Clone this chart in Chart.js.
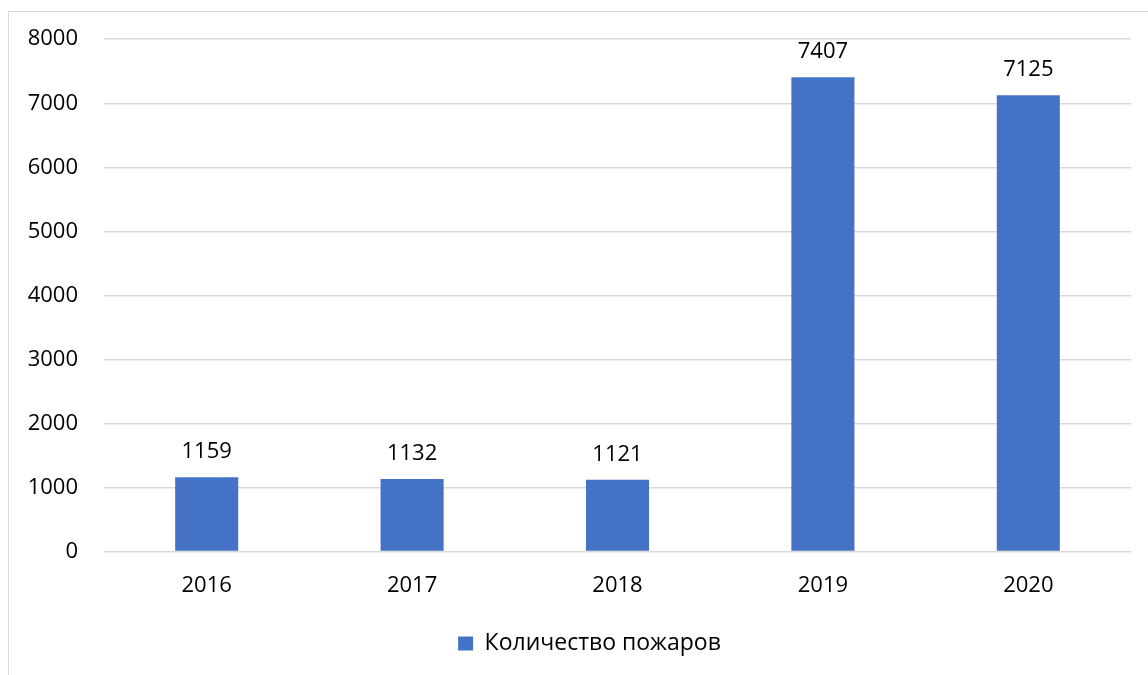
<!DOCTYPE html>
<html>
<head>
<meta charset="utf-8">
<script src="https://cdn.jsdelivr.net/npm/chart.js@4"></script>
<style>
    html, body { margin: 0; padding: 0; background: #fff; overflow: hidden; }
    #wrap { position: relative; width: 1148px; height: 675px; }
    #frame { position: absolute; left: 8px; top: 11px; width: 1200px; height: 700px; border: 1.5px solid #d9d9d9; }
    canvas { position: absolute; left: 0; top: 0; }
</style>
</head>
<body>
<div id="wrap">
    <div id="frame"></div>
    <canvas id="fireChart" width="1148" height="675"></canvas>
</div>
<script>
// Chart data
const years = ['2016', '2017', '2018', '2019', '2020'];
const fireCounts = [1159, 1132, 1121, 7407, 7125];
const seriesName = 'Количество пожаров';

const barColor = '#4472C4';
const fontFamily = '"Open Sans", "Noto Sans", sans-serif';
const fontSize = 22;

// Value labels above each bar
const valueLabels = {
    id: 'valueLabels',
    afterDatasetsDraw(chart) {
        const ctx = chart.ctx;
        const meta = chart.getDatasetMeta(0);
        ctx.save();
        ctx.font = fontSize + 'px ' + fontFamily;
        ctx.fillStyle = '#000';
        ctx.textAlign = 'center';
        ctx.textBaseline = 'middle';
        meta.data.forEach(function (bar, i) {
            ctx.fillText(fireCounts[i], bar.x, bar.y - 25.5);
        });
        ctx.restore();
    }
};

// Nudge the legend a little to the right, like in the original
const legendShift = {
    id: 'legendShift',
    afterLayout(chart) {
        if (!chart.legend) return;
        chart.legend.left += 20;
        chart.legend.right += 20;
    }
};

document.addEventListener('DOMContentLoaded', function () {
    const ctx = document.getElementById('fireChart');

    new Chart(ctx, {
        type: 'bar',
        data: {
            labels: years,
            datasets: [{
                label: seriesName,
                data: fireCounts,
                backgroundColor: barColor,
                barPercentage: 0.307,
                categoryPercentage: 1
            }]
        },
        options: {
            responsive: false,
            animation: false,
            layout: { padding: { top: 37.5, right: 17, left: 8, bottom: 10 } },
            plugins: {
                tooltip: { enabled: false },
                legend: {
                    position: 'bottom',
                    labels: {
                        font: { size: 23, family: fontFamily },
                        color: '#000',
                        boxWidth: 15,
                        boxHeight: 14,
                        padding: 22
                    }
                }
            },
            scales: {
                x: {
                    afterFit: function (scale) { scale.height -= 2; },
                    grid: { display: false },
                    border: { display: false },
                    ticks: { font: { size: fontSize, family: fontFamily }, color: '#000', padding: 13 }
                },
                y: {
                    min: 0,
                    max: 8000,
                    afterFit: function (scale) { scale.width = 96; },
                    grid: { color: '#d9d9d9', lineWidth: 1.5, drawTicks: false },
                    border: { display: false },
                    ticks: {
                        stepSize: 1000,
                        font: { size: fontSize, family: fontFamily },
                        color: '#000',
                        padding: 26,
                        callback: function (v) { return String(v); }
                    }
                }
            }
        },
        plugins: [valueLabels, legendShift]
    });
});
</script>
</body>
</html>
